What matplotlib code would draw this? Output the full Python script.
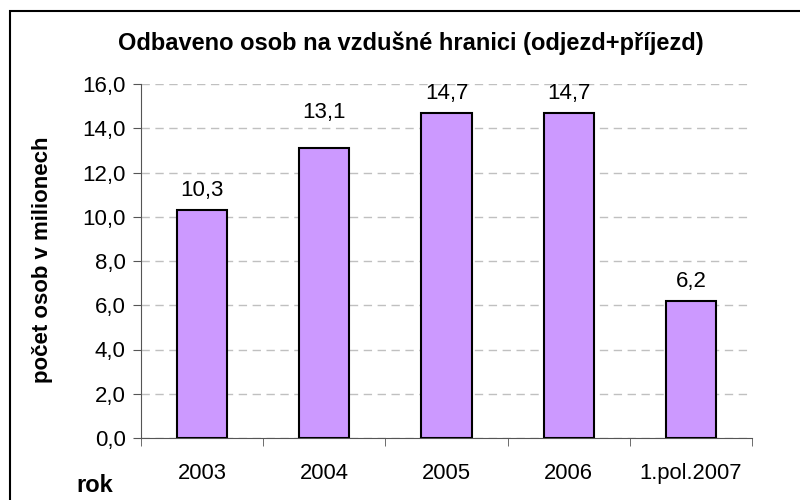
import matplotlib.pyplot as plt
import numpy as np
from matplotlib.patches import Rectangle

plt.rcParams['font.family'] = ['Liberation Sans', 'DejaVu Sans']

categories = ["2003", "2004", "2005", "2006", "1.pol.2007"]
values = [10.3, 13.1, 14.7, 14.7, 6.2]
yticks = [0, 2, 4, 6, 8, 10, 12, 14, 16]

# Excel put the 13,1 label higher than the others
label_offset = [14, 26, 14, 14, 14]

fig = plt.figure(figsize=(8, 5), dpi=100)
ax = fig.add_axes([141 / 800, 1 - 438 / 500, (752 - 141) / 800, (438 - 84) / 500])

x = np.arange(len(categories))
bars = ax.bar(x, values, width=0.41, color="#CC99FF", edgecolor="black", linewidth=1.5, zorder=3)

for b, v, off in zip(bars, values, label_offset):
    ax.annotate(f"{v:.1f}".replace(".", ","), (b.get_x() + b.get_width() / 2, v),
                xytext=(0, off), textcoords="offset points", ha="center", va="center", fontsize=16)

ax.set_xlim(-0.5, len(categories) - 0.5)
ax.set_ylim(0, 16)
ax.set_yticks(yticks)
ax.set_yticklabels([f"{t:.1f}".replace(".", ",") for t in yticks], fontsize=16)
ax.set_xticks(x)
ax.set_xticklabels(categories, fontsize=15.8)
ax.tick_params(axis="x", length=0, pad=18)
ax.set_xticks(np.arange(len(categories) + 1) - 0.5, minor=True)
ax.tick_params(axis="x", which="minor", length=6, direction="out", color="#555555")
ax.tick_params(axis="y", length=6, direction="out", color="#555555", pad=5)

ax.yaxis.grid(True, linestyle=(0, (6, 4)), color="#c0c0c0", linewidth=1, zorder=0)
ax.spines["top"].set_visible(False)
ax.spines["right"].set_visible(False)
ax.spines["left"].set_color("#555555")
ax.spines["bottom"].set_color("#555555")

fig.text(411 / 800, 1 - 43 / 500, "Odbaveno osob na vzdušné hranici (odjezd+příjezd)",
         ha="center", va="center", fontsize=17, fontweight="bold")
fig.text(43 / 800, 1 - 260 / 500, "počet osob v milionech", rotation=90,
         ha="center", va="center", fontsize=16, fontweight="bold")
fig.text(95 / 800, 1 - 485 / 500, "rok", ha="center", va="center", fontsize=17, fontweight="bold")

fig.patches.append(Rectangle((10 / 800, -0.1), 1.0, 1 - 11 / 500 + 0.1, transform=fig.transFigure,
                             fill=False, edgecolor="black", linewidth=1.5))

fig.savefig("out.png", dpi=100)
